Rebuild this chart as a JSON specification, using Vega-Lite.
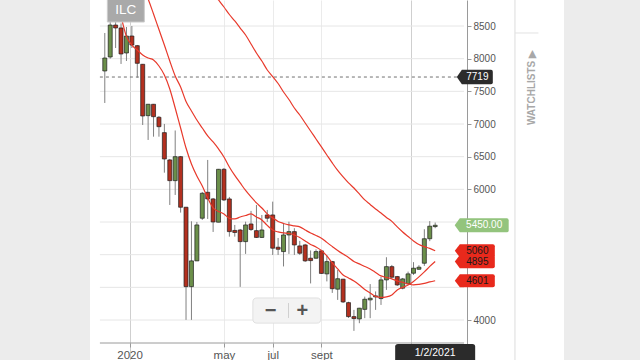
{
  "$schema": "https://vega.github.io/schema/vega-lite/v6.json",
  "width": 474,
  "height": 360,
  "autosize": {"type": "none"},
  "padding": {"left": 90, "right": 76, "top": 0, "bottom": 0},
  "background": "#ececec",
  "view": {"fill": "white", "stroke": null},
  "config": {"font": "Liberation Sans"},
  "datasets": {
    "grid": [{"g":4000},{"g":4500},{"g":5000},{"g":5500},{"g":6000},{"g":6500},{"g":7000},{"g":7500},{"g":8000},{"g":8500}],
    "marks": [
      {"k":"last","label":"5450.00","v":5450},
      {"k":"ma","label":"5060","v":5060},
      {"k":"ma","label":"4895","v":4895},
      {"k":"ma","label":"4601","v":4601},
      {"k":"cross","label":"7719","v":7719}
    ],
    "ui": [
      {"item":"symbol","label":"ILC"},
      {"item":"date","label":"1/2/2021"},
      {"item":"zoom"},
      {"item":"minus","label":"−"},
      {"item":"plus","label":"+"},
      {"item":"line"}
    ],
    "candles": [
      {"d":"2019-12-02","o":7812,"h":8393,"l":7322,"c":8010},
      {"d":"2019-12-09","o":8026,"h":8561,"l":8000,"c":8515,"fast":9175},
      {"d":"2019-12-16","o":8515,"h":8560,"l":8163,"c":8470,"fast":8883},
      {"d":"2019-12-23","o":8470,"h":8540,"l":7919,"c":8072,"fast":8638},
      {"d":"2019-12-30","o":8087,"h":8485,"l":7965,"c":8347,"fast":8340},
      {"d":"2020-01-06","o":8347,"h":8500,"l":8163,"c":8209,"fast":8209},
      {"d":"2020-01-13","o":8199,"h":8210,"l":7709,"c":7929,"fast":8133},
      {"d":"2020-01-20","o":7914,"h":7919,"l":6985,"c":7123,"fast":8056,"mid":9097},
      {"d":"2020-01-27","o":7128,"h":7307,"l":6756,"c":7302,"fast":8010,"mid":8913},
      {"d":"2020-02-03","o":7302,"h":7307,"l":6806,"c":7112,"fast":7980,"mid":8684},
      {"d":"2020-02-10","o":7103,"h":7123,"l":6806,"c":6959,"fast":7888,"mid":8446},
      {"d":"2020-02-17","o":6868,"h":7001,"l":6255,"c":6465,"fast":7750,"mid":8209},
      {"d":"2020-02-24","o":6450,"h":6465,"l":5761,"c":6133,"fast":7536,"mid":7964},
      {"d":"2020-03-02","o":6133,"h":6901,"l":5914,"c":6500,"fast":7245,"mid":7735},
      {"d":"2020-03-09","o":6500,"h":6511,"l":5644,"c":5726,"fast":6939,"mid":7567},
      {"d":"2020-03-16","o":5726,"h":5731,"l":4002,"c":4511,"fast":6633,"mid":7345},
      {"d":"2020-03-23","o":4511,"h":5511,"l":4002,"c":4905,"fast":6389,"mid":7200},
      {"d":"2020-03-30","o":4905,"h":5501,"l":4905,"c":5455,"fast":6205,"mid":7062},
      {"d":"2020-04-06","o":5558,"h":5960,"l":5532,"c":5940,"fast":6052,"mid":6939,"slow":9204},
      {"d":"2020-04-13","o":5955,"h":6450,"l":5547,"c":5853,"fast":5868,"mid":6817,"slow":9103},
      {"d":"2020-04-20","o":5853,"h":5868,"l":5348,"c":5501,"fast":5715,"mid":6725,"slow":9005},
      {"d":"2020-04-27","o":5497,"h":6312,"l":5497,"c":6307,"fast":5662,"mid":6618,"slow":8898},
      {"d":"2020-05-04","o":6307,"h":6327,"l":5822,"c":5838,"fast":5624,"mid":6496,"slow":8791},
      {"d":"2020-05-11","o":5853,"h":5884,"l":5276,"c":5353,"fast":5555,"mid":6343,"slow":8676},
      {"d":"2020-05-18","o":5371,"h":5455,"l":5276,"c":5340,"fast":5547,"mid":6213,"slow":8577},
      {"d":"2020-05-25","o":5378,"h":5394,"l":4507,"c":5200,"fast":5577,"mid":6098,"slow":8469},
      {"d":"2020-06-01","o":5200,"h":5505,"l":5012,"c":5455,"fast":5600,"mid":5983,"slow":8362},
      {"d":"2020-06-08","o":5470,"h":5670,"l":5363,"c":5386,"fast":5624,"mid":5884,"slow":8225},
      {"d":"2020-06-15","o":5368,"h":5761,"l":5256,"c":5264,"fast":5577,"mid":5792,"slow":8087},
      {"d":"2020-06-22","o":5264,"h":5608,"l":5256,"c":5378,"fast":5532,"mid":5715,"slow":7964},
      {"d":"2020-06-29","o":5608,"h":5685,"l":5501,"c":5558,"fast":5448,"mid":5624,"slow":7827},
      {"d":"2020-07-06","o":5608,"h":5812,"l":4996,"c":5099,"fast":5378,"mid":5562,"slow":7727},
      {"d":"2020-07-13","o":5114,"h":5256,"l":4996,"c":5083,"fast":5348,"mid":5509,"slow":7620},
      {"d":"2020-07-20","o":5047,"h":5486,"l":4820,"c":5302,"fast":5333,"mid":5478,"slow":7490},
      {"d":"2020-07-27","o":5302,"h":5505,"l":5012,"c":5353,"fast":5325,"mid":5455,"slow":7375},
      {"d":"2020-08-03","o":5353,"h":5405,"l":4996,"c":5149,"fast":5302,"mid":5440,"slow":7245},
      {"d":"2020-08-10","o":5134,"h":5211,"l":4996,"c":5022,"fast":5264,"mid":5425,"slow":7138},
      {"d":"2020-08-17","o":5149,"h":5165,"l":4889,"c":4905,"fast":5210,"mid":5378,"slow":7016},
      {"d":"2020-08-24","o":4946,"h":5065,"l":4560,"c":4909,"fast":5157,"mid":5332,"slow":6893},
      {"d":"2020-08-31","o":4946,"h":5081,"l":4935,"c":5047,"fast":5119,"mid":5294,"slow":6771},
      {"d":"2020-09-07","o":5058,"h":5073,"l":4706,"c":4713,"fast":5065,"mid":5252,"slow":6649},
      {"d":"2020-09-14","o":4706,"h":4989,"l":4591,"c":4894,"fast":4981,"mid":5188,"slow":6526},
      {"d":"2020-09-21","o":4894,"h":4905,"l":4415,"c":4479,"fast":4874,"mid":5126,"slow":6404},
      {"d":"2020-09-28","o":4472,"h":4767,"l":4308,"c":4632,"fast":4782,"mid":5065,"slow":6289},
      {"d":"2020-10-05","o":4625,"h":4629,"l":4260,"c":4277,"fast":4690,"mid":5009,"slow":6190},
      {"d":"2020-10-12","o":4266,"h":4280,"l":4032,"c":4052,"fast":4644,"mid":4958,"slow":6098},
      {"d":"2020-10-19","o":4052,"h":4155,"l":3834,"c":4022,"fast":4598,"mid":4897,"slow":6021},
      {"d":"2020-10-26","o":4017,"h":4186,"l":3951,"c":4181,"fast":4537,"mid":4859,"slow":5930},
      {"d":"2020-11-02","o":4163,"h":4358,"l":4028,"c":4318,"fast":4468,"mid":4820,"slow":5838},
      {"d":"2020-11-09","o":4308,"h":4550,"l":4028,"c":4334,"fast":4415,"mid":4782,"slow":5769},
      {"d":"2020-11-16","o":4354,"h":4438,"l":4155,"c":4369,"fast":4361,"mid":4729,"slow":5700},
      {"d":"2020-11-23","o":4328,"h":4660,"l":4231,"c":4614,"fast":4346,"mid":4675,"slow":5639},
      {"d":"2020-11-30","o":4614,"h":4961,"l":4461,"c":4817,"fast":4354,"mid":4652,"slow":5570},
      {"d":"2020-12-07","o":4817,"h":4843,"l":4645,"c":4655,"fast":4384,"mid":4629,"slow":5509},
      {"d":"2020-12-14","o":4665,"h":4675,"l":4522,"c":4537,"fast":4461,"mid":4598,"slow":5425},
      {"d":"2020-12-21","o":4487,"h":4644,"l":4470,"c":4629,"fast":4499,"mid":4576,"slow":5348},
      {"d":"2020-12-28","o":4553,"h":4741,"l":4553,"c":4706,"fast":4537,"mid":4553,"slow":5279},
      {"d":"2021-01-04","o":4716,"h":4886,"l":4690,"c":4793,"fast":4591,"mid":4537,"slow":5211},
      {"d":"2021-01-11","o":4777,"h":4839,"l":4767,"c":4808,"fast":4660,"mid":4545,"slow":5157},
      {"d":"2021-01-18","o":4869,"h":5389,"l":4828,"c":5244,"fast":4736,"mid":4560,"slow":5123},
      {"d":"2021-01-25","o":5244,"h":5514,"l":5207,"c":5436,"fast":4820,"mid":4583,"slow":5096},
      {"d":"2021-02-01","o":5430,"h":5492,"l":5405,"c":5450,"fast":4895,"mid":4601,"slow":5060}
    ]
  },
  "encoding": {
    "x": {
      "type": "temporal",
      "scale": {"type": "utc", "domain": [1574151667200, 1625965056000], "nice": false},
      "axis": {
        "values": [1578009600000, 1588550400000, 1593993600000, 1599436800000, 1609459200000],
        "offset": -17,
        "domain": false,
        "grid": true,
        "gridColor": {"condition": {"test": "utcmonth(datum.value) == 0", "value": "#cfcfcf"}, "value": "#ebebeb"},
        "tickColor": "#9a9a9a",
        "tickSize": 4,
        "labelExpr": "utcmonth(datum.value) == 0 ? (utcyear(datum.value) == 2020 ? '2020' : '') : utcmonth(datum.value) == 4 ? 'may' : utcmonth(datum.value) == 6 ? 'jul' : 'sept'",
        "labelFont": "Liberation Sans",
        "labelFontSize": 11.5,
        "labelColor": "#555555",
        "labelPadding": 2,
        "labelOverlap": false,
        "labelFlush": false,
        "title": null
      }
    },
    "y": {
      "type": "quantitative",
      "scale": {"domain": [3388, 8898], "nice": false, "zero": false},
      "axis": {
        "orient": "right",
        "offset": -97,
        "values": [4000, 6000, 6500, 7000, 7500, 8000, 8500],
        "format": "d",
        "grid": false,
        "domainColor": "#9a9a9a",
        "tickColor": "#9a9a9a",
        "tickSize": 4,
        "labelFont": "Liberation Sans",
        "labelFontSize": 10,
        "labelColor": "#555555",
        "labelPadding": 2,
        "labelOverlap": false,
        "title": "WATCHLISTS ▶",
        "titleAngle": 270,
        "titleX": 64,
        "titleY": 87,
        "titleAlign": "center",
        "titleBaseline": "middle",
        "titleFont": "Liberation Sans",
        "titleFontSize": 10,
        "titleFontWeight": "bold",
        "titleColor": "#a8a8a8"
      }
    }
  },
  "layer": [
    {
      "data": {"name": "grid"},
      "mark": {"type": "rule", "color": "#e6e6e6", "strokeWidth": 1},
      "encoding": {
        "y": {"field": "g"},
        "x": {"datum": 1574698233600},
        "x2": {"datum": 1615362048000}
      }
    },
    {
      "data": {"name": "ui"},
      "transform": [{"filter": "datum.item == 'line'"}],
      "mark": {"type": "rule", "color": "#9a9a9a", "strokeWidth": 1},
      "encoding": {
        "y": {"datum": 3648},
        "x": {"datum": 1574698233600},
        "x2": {"datum": 1615362048000}
      }
    },
    {
      "data": {"name": "ui"},
      "transform": [{"filter": "datum.item == 'line'"}],
      "mark": {"type": "rule", "color": "#dcdcdc", "strokeWidth": 1},
      "encoding": {
        "y": {"datum": 8898},
        "y2": {"datum": 3388},
        "x": {"datum": 1621047168000}
      }
    },
    {
      "data": {"name": "ui"},
      "transform": [{"filter": "datum.item == 'line'"}],
      "mark": {"type": "rule", "color": "#e2e2e2", "strokeWidth": 1},
      "encoding": {
        "y": {"datum": 8393},
        "x": {"datum": 1621047168000},
        "x2": {"datum": 1623670272000}
      }
    },
    {
      "data": {"name": "marks"},
      "transform": [{"filter": "datum.k == 'cross'"}],
      "mark": {"type": "rule", "color": "#707070", "strokeWidth": 1, "strokeDash": [3, 3]},
      "encoding": {
        "y": {"field": "v"},
        "x": {"datum": 1574698233600},
        "x2": {"datum": 1615362048000}
      }
    },
    {
      "data": {"name": "candles"},
      "transform": [{"filter": "datum.d == '2021-02-01'"}],
      "mark": {"type": "rule", "color": "#a8a8a8", "strokeWidth": 1.5, "strokeDash": [3, 3]},
      "encoding": {
        "x": {"field": "d"},
        "y": {"datum": 8898},
        "y2": {"datum": 3648}
      }
    },
    {
      "data": {"name": "candles"},
      "mark": {"type": "rule", "color": "#808080", "strokeWidth": 1},
      "encoding": {
        "x": {"field": "d"},
        "y": {"field": "l"},
        "y2": {"field": "h"}
      }
    },
    {
      "data": {"name": "candles"},
      "mark": {"type": "bar", "size": 4, "stroke": "#1e1e1e", "strokeWidth": 0.7},
      "encoding": {
        "x": {"field": "d"},
        "y": {"field": "o"},
        "y2": {"field": "c"},
        "fill": {"condition": {"test": "datum.c >= datum.o", "value": "#6b8f4a"}, "value": "#b3301f"}
      }
    },
    {
      "data": {"name": "candles"},
      "transform": [
        {"fold": ["fast", "mid", "slow"], "as": ["s", "v"]},
        {"filter": "isValid(datum.v)"}
      ],
      "mark": {"type": "line", "color": "#e8392b", "strokeWidth": 1.2, "clip": true, "interpolate": "monotone"},
      "encoding": {
        "x": {"field": "d"},
        "y": {"field": "v"},
        "detail": {"field": "s"}
      }
    },
    {
      "data": {"name": "marks"},
      "transform": [{"filter": "datum.k == 'ma'"}],
      "mark": {"type": "point", "shape": "M-1,0L-0.75,-0.33L0.9,-0.33Q1,-0.33 1,-0.23L1,0.23Q1,0.33 0.9,0.33L-0.75,0.33Z", "size": 1600, "filled": true, "color": "#e8291c", "opacity": 1, "strokeWidth": 0},
      "encoding": {
        "x": {"datum": 1616564736000},
        "y": {"field": "v"}
      }
    },
    {
      "data": {"name": "marks"},
      "transform": [{"filter": "datum.k == 'cross'"}],
      "mark": {"type": "point", "shape": "M-1,0L-0.72,-0.4L0.9,-0.4Q1,-0.4 1,-0.3L1,0.3Q1,0.4 0.9,0.4L-0.72,0.4Z", "size": 1296, "filled": true, "color": "#2b2b2b", "opacity": 1, "strokeWidth": 0},
      "encoding": {
        "x": {"datum": 1616564736000},
        "y": {"field": "v"}
      }
    },
    {
      "data": {"name": "marks"},
      "transform": [{"filter": "datum.k == 'last'"}],
      "mark": {"type": "point", "shape": "M-1,0L-0.81,-0.26L0.93,-0.26Q1,-0.26 1,-0.19L1,0.19Q1,0.26 0.93,0.26L-0.81,0.26Z", "size": 2916, "filled": true, "color": "#93c47d", "opacity": 1, "strokeWidth": 0},
      "encoding": {
        "x": {"datum": 1617330240000},
        "y": {"field": "v"}
      }
    },
    {
      "data": {"name": "marks"},
      "transform": [{"filter": "datum.k == 'ma'"}],
      "mark": {"type": "text", "fontSize": 10, "color": "#1a1a1a", "dx": 2.5, "align": "center", "baseline": "middle"},
      "encoding": {
        "x": {"datum": 1616564736000},
        "y": {"field": "v"},
        "text": {"field": "label"}
      }
    },
    {
      "data": {"name": "marks"},
      "transform": [{"filter": "datum.k == 'cross'"}],
      "mark": {"type": "text", "fontSize": 10, "color": "white", "dx": 2.5, "align": "center", "baseline": "middle"},
      "encoding": {
        "x": {"datum": 1616564736000},
        "y": {"field": "v"},
        "text": {"field": "label"}
      }
    },
    {
      "data": {"name": "marks"},
      "transform": [{"filter": "datum.k == 'last'"}],
      "mark": {"type": "text", "fontSize": 10, "color": "white", "dx": 2.5, "align": "center", "baseline": "middle"},
      "encoding": {
        "x": {"datum": 1617330240000},
        "y": {"field": "v"},
        "text": {"field": "label"}
      }
    },
    {
      "data": {"name": "ui"},
      "transform": [{"filter": "datum.item == 'date'"}],
      "mark": {"type": "point", "shape": "M-0.93,-0.225Q-1,-0.225 -1,-0.16L-1,0.225L1,0.225L1,-0.16Q1,-0.225 0.93,-0.225Z", "size": 6400, "filled": true, "color": "#2b2b2b", "opacity": 1, "strokeWidth": 0},
      "encoding": {
        "x": {"datum": 1612137600000},
        "y": {"datum": 3495}
      }
    },
    {
      "data": {"name": "ui"},
      "transform": [{"filter": "datum.item == 'date'"}],
      "mark": {"type": "text", "fontSize": 10.5, "color": "white", "align": "center", "baseline": "middle"},
      "encoding": {
        "x": {"datum": 1612137600000},
        "y": {"datum": 3495},
        "text": {"field": "label"}
      }
    },
    {
      "data": {"name": "ui"},
      "transform": [{"filter": "datum.item == 'zoom'"}],
      "mark": {"type": "point", "shape": "M-0.88,-0.37L0.88,-0.37Q1,-0.37 1,-0.25L1,0.25Q1,0.37 0.88,0.37L-0.88,0.37Q-1,0.37 -1,0.25L-1,-0.25Q-1,-0.37 -0.88,-0.37Z", "size": 4624, "filled": true, "fill": "#f3f3f3", "stroke": "#e0e0e0", "strokeWidth": 1, "opacity": 1},
      "encoding": {
        "x": {"datum": 1595576448000},
        "y": {"datum": 4145}
      }
    },
    {
      "data": {"name": "ui"},
      "transform": [{"filter": "datum.item == 'zoom'"}],
      "mark": {"type": "rule", "color": "#d0d0d0", "strokeWidth": 1},
      "encoding": {
        "x": {"datum": 1595762208000},
        "y": {"datum": 4260},
        "y2": {"datum": 4031}
      }
    },
    {
      "data": {"name": "ui"},
      "transform": [{"filter": "datum.item == 'minus'"}],
      "mark": {"type": "text", "fontSize": 20, "fontWeight": "bold", "color": "#555555", "align": "center", "baseline": "middle"},
      "encoding": {
        "x": {"datum": 1593751680000},
        "y": {"datum": 4145},
        "text": {"field": "label"}
      }
    },
    {
      "data": {"name": "ui"},
      "transform": [{"filter": "datum.item == 'plus'"}],
      "mark": {"type": "text", "fontSize": 20, "fontWeight": "bold", "color": "#555555", "align": "center", "baseline": "middle"},
      "encoding": {
        "x": {"datum": 1597293216000},
        "y": {"datum": 4145},
        "text": {"field": "label"}
      }
    },
    {
      "data": {"name": "ui"},
      "transform": [{"filter": "datum.item == 'symbol'"}],
      "mark": {"type": "point", "shape": "M-1,-0.65L1,-0.65L1,0.65L-1,0.65Z", "size": 1369, "filled": true, "fill": "#a9a9a9", "stroke": "#cccccc", "strokeWidth": 1, "opacity": 1},
      "encoding": {
        "x": {"datum": 1577597472000},
        "y": {"datum": 8745}
      }
    },
    {
      "data": {"name": "ui"},
      "transform": [{"filter": "datum.item == 'symbol'"}],
      "mark": {"type": "text", "fontSize": 13.5, "color": "white", "align": "center", "baseline": "middle"},
      "encoding": {
        "x": {"datum": 1577597472000},
        "y": {"datum": 8745},
        "text": {"field": "label"}
      }
    }
  ]
}
